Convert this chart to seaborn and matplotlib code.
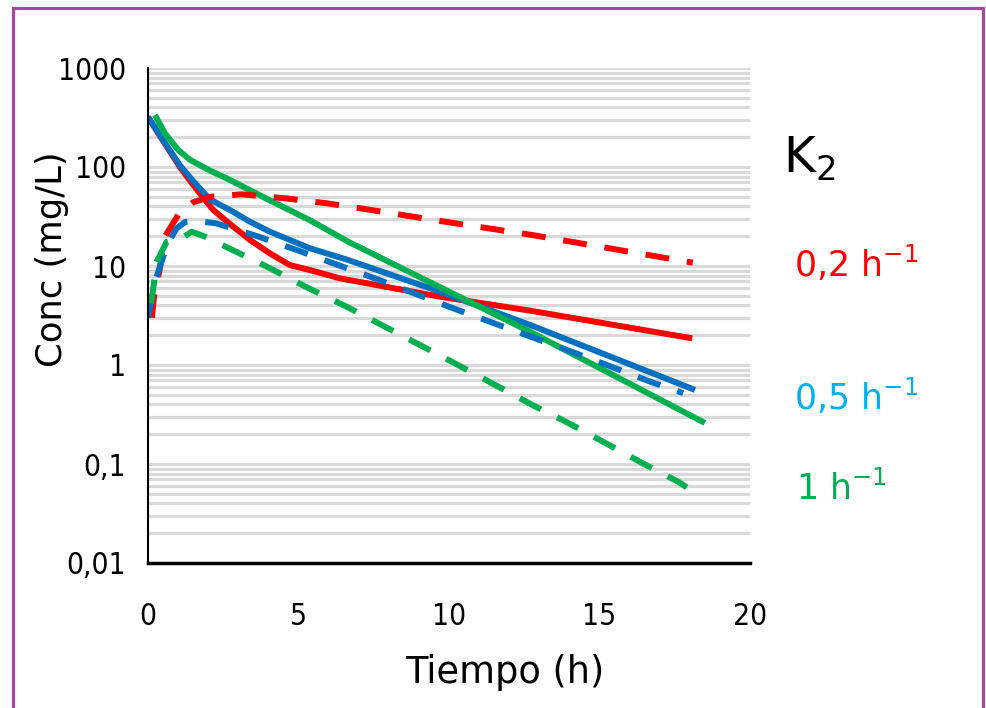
import numpy as np
import pandas as pd
import matplotlib
matplotlib.use("Agg")
import matplotlib.pyplot as plt
import seaborn as sns
from matplotlib.ticker import LogLocator, FixedLocator, FixedFormatter, NullFormatter
from matplotlib.patches import Rectangle

# ---- data ----
t_red_solid = [0, 0.34, 1.06, 1.5, 2.16, 2.72, 3.39, 4.05, 4.72, 5.38, 6.38, 9.7, 12.69, 18.08]
c_red_solid = [320, 219, 100, 66, 37, 26.6, 18.3, 13.4, 10.2, 9.1, 7.5, 4.9, 3.54, 1.86]

t_blue_solid = [0, 0.34, 1.06, 1.5, 2.06, 2.72, 3.39, 4.05, 5.38, 6.65, 9.7, 12.69, 18.17]
c_blue_solid = [320, 222, 104, 72, 47, 36.8, 28, 22.2, 15.1, 11.5, 5.5, 2.54, 0.56]

t_green_solid = [0.23, 0.56, 1.01, 1.4, 2.06, 2.72, 4.05, 5.38, 6.65, 12.69, 18.5]
c_green_solid = [335, 219, 148, 118, 92, 74, 46, 29, 17.6, 2.17, 0.26]

t_red_dash = [0.13, 0.2, 0.38, 0.56, 1.0, 1.5, 2.06, 3.11, 4.55, 5.94, 7.26, 10.0, 12.75, 18.1]
c_red_dash = [3.0, 4.9, 9.0, 19.8, 32.7, 44, 50, 53, 48.3, 43, 37.4, 27.6, 20.6, 10.8]

t_blue_dash = [0, 0.12, 0.23, 0.5, 0.66, 0.95, 1.23, 1.6, 2.26, 3.61, 4.94, 6.21, 7.54,
               8.84, 10.14, 11.45, 14.08, 15.4, 16.68, 17.78]
c_blue_dash = [3.0, 4.6, 6.9, 12.3, 17, 24, 27.8, 28.5, 27, 20.1, 14.5, 10.5, 7.5,
               5.3, 3.74, 2.67, 1.36, 0.96, 0.68, 0.52]

t_green_dash = [0.1, 0.2, 0.26, 0.62, 1.17, 1.45, 1.9, 2.75, 4.05, 5.27, 6.6, 7.76, 10.3,
                12.8, 13.96, 15.18, 16.4, 17.62, 17.9]
c_green_dash = [4.2, 6.7, 10.6, 17.6, 19.5, 22.2, 19.8, 14.8, 9.5, 6.1, 3.88, 2.54, 1.0,
                0.39, 0.26, 0.164, 0.103, 0.066, 0.058]

y_ticks = [0.01, 0.1, 1, 10, 100, 1000]
y_tick_labels = ["0,01", "0,1", "1", "10", "100", "1000"]
x_ticks = [0, 5, 10, 15, 20]
x_tick_labels = ["0", "5", "10", "15", "20"]

k2_title = "K$_2$"
k2_labels = ["0,2 h$^{-1}$", "0,5 h$^{-1}$", "1 h$^{-1}$"]
x_label = "Tiempo (h)"
y_label = "Conc (mg/L)"

RED = "#ff0000"
BLUE = "#0070c0"
GREEN = "#00b050"
LBLUE = "#00b0f0"

sns.set_style("white")
plt.rcParams["font.family"] = ["DejaVu Sans"]
plt.rcParams["mathtext.default"] = "regular"
plt.rcParams["text.color"] = "black"

W, H = 986, 708
fig = plt.figure(figsize=(W / 100, H / 100), dpi=100)
ax = fig.add_axes([148 / W, 1 - 563 / H, (750 - 148) / W, (563 - 68) / H])

series = [
    (t_red_solid, c_red_solid, RED, "-"),
    (t_blue_solid, c_blue_solid, BLUE, "-"),
    (t_green_solid, c_green_solid, GREEN, "-"),
    (t_red_dash, c_red_dash, RED, "--"),
    (t_blue_dash, c_blue_dash, BLUE, "--"),
    (t_green_dash, c_green_dash, GREEN, "--"),
]
for t, c, col, ls in series:
    df = pd.DataFrame({"t": t, "c": c})
    sns.lineplot(data=df, x="t", y="c", ax=ax, estimator=None, sort=False,
                 color=col, linewidth=4.3, solid_capstyle="butt",
                 solid_joinstyle="round")
    if ls == "--":
        ax.lines[-1].set_dashes((4, 3))
        ax.lines[-1].set_dash_capstyle("butt")

ax.set_yscale("log")
ax.set_ylim(0.01, 1000)
ax.set_xlim(0, 20)

ax.yaxis.set_major_locator(FixedLocator(y_ticks))
ax.yaxis.set_major_formatter(FixedFormatter(y_tick_labels))
ax.yaxis.set_minor_locator(LogLocator(base=10, subs=np.arange(2, 10)))
ax.yaxis.set_minor_formatter(NullFormatter())
ax.xaxis.set_major_locator(FixedLocator(x_ticks))
ax.xaxis.set_major_formatter(FixedFormatter(x_tick_labels))

ax.set_axisbelow(True)
ax.grid(False)
ax.yaxis.grid(True, which="both", color="#d9d9d9", linewidth=2.3)

ax.tick_params(axis="y", which="major", direction="out", length=7, width=2.2,
               color="black", pad=9, labelsize=21.5, labelcolor="black")
ax.tick_params(axis="y", which="minor", length=0)
ax.tick_params(axis="x", which="both", length=0, pad=28, labelsize=21.5, labelcolor="black")
for lab in ax.get_xticklabels() + ax.get_yticklabels():
    lab.set_family("DejaVu Sans")
    lab.set_stretch("condensed")

for s in ["top", "right"]:
    ax.spines[s].set_visible(False)
ax.spines["left"].set_color("black")
ax.spines["left"].set_linewidth(1.5)
ax.spines["bottom"].set_color("black")
ax.spines["bottom"].set_linewidth(2.5)

ax.set_xlabel("")
ax.set_ylabel("")

fig.text(405 / W, 1 - 683 / H, x_label, ha="left", va="baseline", fontsize=26.5,
         color="black")
fig.text(62 / W, 1 - 367 / H, y_label, ha="left", va="baseline", rotation=90,
         rotation_mode="anchor", fontsize=25.5, color="black")

fig.text(783 / W, 1 - 173 / H, k2_title, ha="left", va="baseline", fontsize=35, color="black")
fig.text(794 / W, 1 - 277 / H, k2_labels[0], ha="left", va="baseline", fontsize=25, color=RED)
fig.text(794 / W, 1 - 410 / H, k2_labels[1], ha="left", va="baseline", fontsize=25, color=LBLUE)
fig.text(796 / W, 1 - 500 / H, k2_labels[2], ha="left", va="baseline", fontsize=25, color=GREEN)

fig.add_artist(Rectangle((13 / W, -0.05), (983 - 13) / W, 1.05 - 7.5 / H,
                         transform=fig.transFigure, fill=False,
                         edgecolor="#ab469f", linewidth=2.3, clip_on=False))

fig.savefig("out.png", dpi=100)
